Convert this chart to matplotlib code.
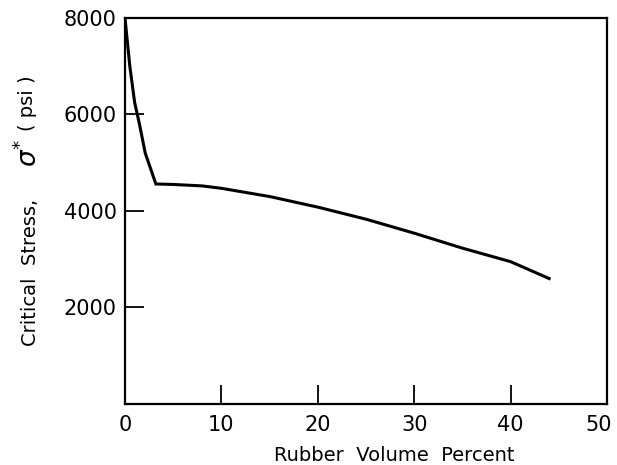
import matplotlib
matplotlib.use('Agg')
import matplotlib.pyplot as plt
from matplotlib.transforms import ScaledTranslation

# critical stress vs rubber content
rubber_pct = [0, 0.2, 0.5, 1.0, 1.5, 2.1, 3.2, 5, 8, 10, 15, 20, 25, 30, 35, 40, 44]
stress_psi = [8000, 7600, 7000, 6250, 5800, 5200, 4560, 4550, 4520, 4470, 4300, 4080,
              3830, 3540, 3230, 2950, 2600]

x_ticks = [0, 10, 20, 30, 40, 50]
y_ticks = [0, 2000, 4000, 6000, 8000]
y_tick_labels = ['', '2000', '4000', '6000', '8000']

fig = plt.figure(figsize=(6.17, 4.65), dpi=100)
ax = fig.add_axes([0.2026, 0.1312, 0.7812, 0.8301])

ax.plot(rubber_pct, stress_psi, color='black', lw=2.2, solid_joinstyle='miter')

ax.set_xlim(0, 50)
ax.set_ylim(0, 8000)
ax.set_xticks(x_ticks)
ax.set_yticks(y_ticks)
ax.set_yticklabels(y_tick_labels)
ax.tick_params(direction='in', length=14, width=1.3, labelsize=15, pad=6)
ax.tick_params(axis='x', pad=8)
for s in ax.spines.values():
    s.set_linewidth(1.6)

# pull the last x label in so it stays on the canvas
last = ax.get_xticklabels()[-1]
last.set_transform(last.get_transform() + ScaledTranslation(-6 / 72, 0, fig.dpi_scale_trans))

fig.text(0.639, 0.0215, 'Rubber  Volume  Percent', ha='center', va='center', fontsize=14)

# y label built from pieces
fig.text(0.049, 1 - 272 / 465, 'Critical  Stress,', rotation=90,
         ha='center', va='center', fontsize=14)
fig.text(0.046, 1 - 153 / 465, r'$\sigma^{*}$', rotation=90,
         ha='center', va='center', fontsize=19)
fig.text(0.044, 1 - 103 / 465, '( psi )', rotation=90,
         ha='center', va='center', fontsize=14)

fig.savefig('out.png', dpi=100)
